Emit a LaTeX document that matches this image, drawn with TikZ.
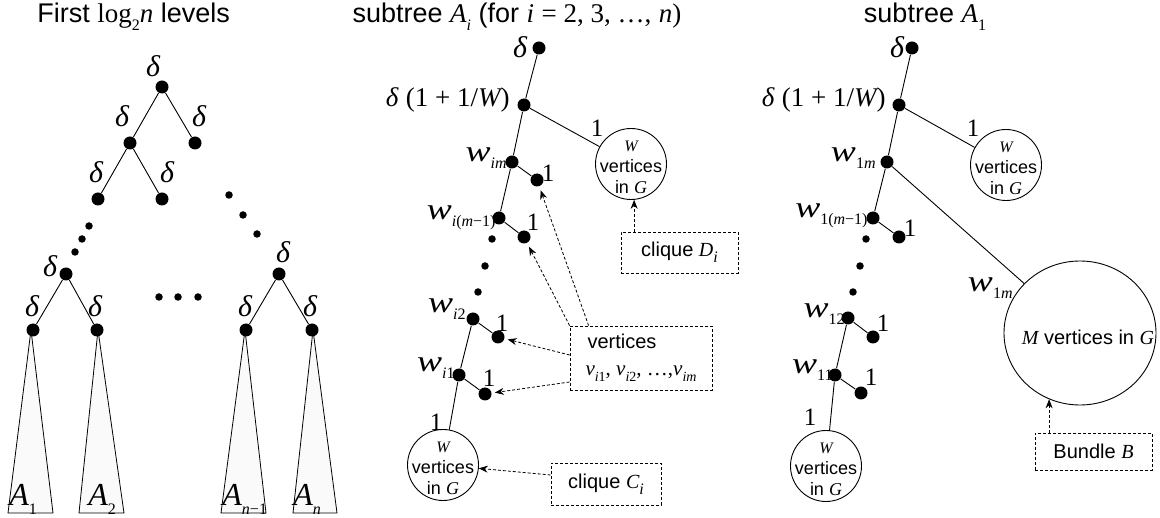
\documentclass[tikz,border=0pt]{standalone}
\usepackage{fontspec}
\usepackage{graphicx}
\setmainfont{Liberation Sans}
\newfontfamily\tms{Liberation Serif}
\usetikzlibrary{arrows.meta,shapes.geometric}
\newcommand{\tmi}[1]{{\tms\itshape #1}}
\newcommand{\tmr}[1]{{\tms\upshape #1}}
\newcommand{\sbs}[1]{\raisebox{-0.55ex}{\fontsize{16}{16}\selectfont\tms #1}}
\newcommand{\ssbs}[1]{\raisebox{-0.55ex}{\fontsize{14}{14}\selectfont\tms #1}}
\newcommand{\wlab}[1]{{\fontsize{30}{30}\selectfont\tmi{\scalebox{1.25}[1]{w}}}\sbs{#1}}
\begin{document}
\begin{tikzpicture}[x=1pt,y=-1pt,
  bigdot/.style={circle,fill=black,inner sep=0pt,minimum size=13pt},
  smalldot/.style={circle,fill=black,inner sep=0pt,minimum size=7.5pt},
  dl/.style={font=\fontsize{30}{30}\selectfont\tms\itshape, inner sep=0pt},
  one/.style={font=\fontsize{25}{25}\selectfont\tms, inner sep=0pt},
  ttl/.style={font=\fontsize{27}{27}\selectfont, inner sep=0pt},
  wl/.style={font=\fontsize{24}{24}\selectfont, inner sep=0pt, anchor=base east},
  alab/.style={font=\fontsize{32}{32}\selectfont, inner sep=0pt, anchor=base west},
  dexpr/.style={font=\fontsize{27}{27}\selectfont, inner sep=0pt, anchor=east},
  clq/.style={circle, draw, minimum size=71pt, inner sep=0pt},
  clqtext/.style={align=center, inner sep=0pt, font=\fontsize{18}{21}\selectfont},
  dbox/.style={draw, dash pattern=on 3pt off 2pt, inner sep=0pt, font=\fontsize{20}{22}\selectfont, line width=0.8pt},
  darr/.style={dash pattern=on 3pt off 2pt, line width=0.8pt, -{Stealth[length=9pt,width=7pt]}},
  tri/.style={draw, fill=black!2, line width=0.8pt},
  every path/.style={line width=0.9pt}]
\useasboundingbox (0,0) rectangle (1160,518);

% ---------------- left: first log2 n levels ----------------
\node[ttl, anchor=west] (t1) at (37,17) {First \tmr{log}\sbs{2}\tmi{n} levels};

\coordinate (a1l) at (8,513);   \coordinate (a1r) at (53,513);
\coordinate (a2l) at (79,513);  \coordinate (a2r) at (124,513);
\coordinate (a3l) at (221,513); \coordinate (a3r) at (266,513);
\coordinate (a4l) at (293,513); \coordinate (a4r) at (337,513);
\coordinate (ap1) at (31,330); \coordinate (ap2) at (98,330);
\coordinate (ap3) at (245,330); \coordinate (ap4) at (313,330);
\draw[tri] (ap1) -- (a1l) -- (a1r) -- cycle;
\draw[tri] (ap2) -- (a2l) -- (a2r) -- cycle;
\draw[tri] (ap3) -- (a3l) -- (a3r) -- cycle;
\draw[tri] (ap4) -- (a4l) -- (a4r) -- cycle;

\node[bigdot] (L0) at (162,87) {};
\node[bigdot] (L1) at (130,143) {};
\node[bigdot] (L2) at (195,143) {};
\node[bigdot] (L3) at (98,199) {};
\node[bigdot] (L4) at (162,199) {};
\node[bigdot] (L5) at (66,274) {};
\node[bigdot] (L6) at (279,274) {};
\node[bigdot] (L7) at (33,330) {};
\node[bigdot] (L8) at (97,330) {};
\node[bigdot] (L9) at (246,330) {};
\node[bigdot] (L10) at (312,330) {};
\draw (L0) -- (L1); \draw (L0) -- (L2);
\draw (L1) -- (L3); \draw (L1) -- (L4);
\draw (L5) -- (L7); \draw (L5) -- (L8);
\draw (L6) -- (L9); \draw (L6) -- (L10);

\node[smalldot] (s1) at (89,226) {};
\node[smalldot] (s2) at (82,239) {};
\node[smalldot] (s3) at (75,252) {};
\node[smalldot] (s4) at (229,195) {};
\node[smalldot] (s5) at (243,215) {};
\node[smalldot] (s6) at (257,234) {};
\node[smalldot] (s7) at (159,297) {};
\node[smalldot] (s8) at (178,297) {};
\node[smalldot] (s9) at (198,297) {};

\node[dl] (d0) at (153,66) {δ};
\node[dl] (d1) at (122,116) {δ};
\node[dl] (d2) at (199,116) {δ};
\node[dl] (d3) at (96,172) {δ};
\node[dl] (d4) at (167,172) {δ};
\node[dl] (d5) at (50,266) {δ};
\node[dl] (d6) at (283,252) {δ};
\node[dl] (d7) at (32,306) {δ};
\node[dl] (d8) at (95,306) {δ};
\node[dl] (d9) at (245,306) {δ};
\node[dl] (d10) at (310,306) {δ};

\node[alab] (A1) at (9,505) {\tmi{A}\sbs{1}};
\node[alab] (A2) at (88,505) {\tmi{A}\sbs{2}};
\node[alab] (A3) at (222,505) {\tmi{A}\sbs{\itshape n\upshape −1}};
\node[alab] (A4) at (293,505) {\tmi{A}\sbs{\itshape n}};

% ---------------- middle: subtree A_i ----------------
\node[ttl] (t2) at (517,17) {subtree \tmi{A}\sbs{\itshape i} (for \tmi{i} \tmr{= 2, 3, …,} \tmi{n}\tmr{)}};

\node[bigdot] (m0) at (539,48) {};
\node[bigdot] (m1) at (524,105) {};
\node[bigdot] (mwm) at (512,162) {};
\node[bigdot] (mvm) at (537,180) {};
\node[bigdot] (mwm1) at (499,218) {};
\node[bigdot] (mvm1) at (524,237) {};
\node[smalldot] (ms1) at (492,239) {};
\node[smalldot] (ms2) at (485,266) {};
\node[smalldot] (ms3) at (478,292) {};
\node[bigdot] (mw2) at (473,319) {};
\node[bigdot] (mv2) at (498,337) {};
\node[bigdot] (mw1) at (459,375) {};
\node[bigdot] (mv1) at (485,394) {};
\node[clq] (cD) at (631,164) {};
\node[clqtext] (cDt) at (631,167) {{\fontsize{16}{16}\selectfont\tmi{W}}\\vertices\\in \tmi{G}};
\node[clq] (cC) at (443,465) {};
\node[clqtext] (cCt) at (443,468) {{\fontsize{16}{16}\selectfont\tmi{W}}\\vertices\\in \tmi{G}};

\draw (m0) -- (m1); \draw (m1) -- (mwm); \draw (mwm) -- (mwm1);
\draw (m1) -- (cD);
\draw (mwm) -- (mvm); \draw (mwm1) -- (mvm1);
\draw (mw2) -- (mv2); \draw (mw1) -- (mv1);
\draw (mw2) -- (mw1); \draw (mw1) -- (cC);

\node[dl] (md0) at (520,47) {δ};
\node[dexpr] (md1) at (510,100) {\tmi{δ} \tmr{(1 + 1/}\tmi{W}\tmr{)}};
\node[wl] (lwm) at (507,162) {\wlab{\itshape im}};
\node[wl] (lwm1) at (496,220) {\wlab{\itshape i\upshape(\itshape m\upshape −1)}};
\node[wl] (lw2) at (466,313) {\wlab{\itshape i\upshape 2}};
\node[wl] (lw1) at (455,372) {\wlab{\itshape i\upshape 1}};
\node[one] (o1) at (597,128) {1};
\node[one] (o2) at (548,173) {1};
\node[one] (o3) at (533,222) {1};
\node[one] (o4) at (502,323) {1};
\node[one] (o5) at (489,378) {1};
\node[one] (o6) at (436,422) {1};

\node[dbox, minimum width=142pt, minimum height=64pt, align=left, inner xsep=0pt] (vbox) at (641,358)
  {\hspace*{2pt}vertices\\[5pt]{\fontsize{21}{21}\selectfont\tmi{v}\ssbs{\itshape i\upshape 1}\tmr{, }\tmi{v}\ssbs{\itshape i\upshape 2}\tmr{, …,}\tmi{v}\ssbs{\itshape im}}};
\node[dbox, minimum width=110pt, minimum height=42pt] (cbox) at (606,484) {clique \tmi{C}\sbs{\itshape i}};
\node[dbox, minimum width=117pt, minimum height=41pt] (dbox) at (679.5,252.5) {clique \tmi{D}\sbs{\itshape i}};

\draw[darr, shorten >=3pt] ([yshift=3pt]vbox.west) -- (mv2);
\draw[darr, shorten >=3pt] ([yshift=-24pt]vbox.west) -- (mv1);
\draw[darr, shorten >=4pt] (vbox.north west) -- (mvm1);
\draw[darr, shorten >=4pt] ([xshift=19pt]vbox.north west) -- (mvm);
\draw[darr] ([yshift=9pt]cbox.west) -- (cC);
\draw[darr] (dbox.north -| cD.-85) -- (cD.-85);

% ---------------- right: subtree A_1 ----------------
\node[ttl] (t3) at (925,17) {subtree \tmi{A}\sbs{1}};

\node[bigdot] (r0) at (912,48) {};
\node[bigdot] (r1) at (899,105) {};
\node[bigdot] (rwm) at (887,162) {};
\node[bigdot] (rwm1) at (873,218) {};
\node[bigdot] (rvm1) at (899,237) {};
\node[smalldot] (rs1) at (866,239) {};
\node[smalldot] (rs2) at (860,266) {};
\node[smalldot] (rs3) at (853,292) {};
\node[bigdot] (rw2) at (848,318) {};
\node[bigdot] (rv2) at (873,337) {};
\node[bigdot] (rw1) at (835,375) {};
\node[bigdot] (rv1) at (861,393) {};
\node[clq] (cR) at (1006,165) {};
\node[clqtext] (cRt) at (1006,168) {{\fontsize{16}{16}\selectfont\tmi{W}}\\vertices\\in \tmi{G}};
\node[clq] (cR2) at (826,466) {};
\node[clqtext] (cR2t) at (826,469) {{\fontsize{16}{16}\selectfont\tmi{W}}\\vertices\\in \tmi{G}};
\node[ellipse, draw, minimum width=152pt, minimum height=144pt, inner sep=0pt] (cB) at (1080,333) {};
\node[inner sep=0pt, font=\fontsize{20}{22}\selectfont] (cBt) at (1088,337) {\tmi{M} vertices in \tmi{G}};

\draw (r0) -- (r1); \draw (r1) -- (rwm); \draw (rwm) -- (rwm1);
\draw (r1) -- (cR);
\draw (rwm) -- (cB);
\draw (rwm1) -- (rvm1);
\draw (rw2) -- (rv2); \draw (rw1) -- (rv1);
\draw (rw2) -- (rw1); \draw (rw1) -- (cR2);

\node[dl] (rd0) at (897,47) {δ};
\node[dexpr] (rd1) at (886,100) {\tmi{δ} \tmr{(1 + 1/}\tmi{W}\tmr{)}};
\node[wl] (rlwm) at (876,162) {\wlab{\upshape 1\itshape m}};
\node[wl] (rlwm1) at (868,218) {\wlab{\upshape 1(\itshape m\upshape −1)}};
\node[wl] (rlw2) at (845,318) {\wlab{\upshape 12}};
\node[wl] (rlw1) at (833,374) {\wlab{\upshape 11}};
\node[wl] (rlB) at (1013,292) {\wlab{\upshape 1\itshape m}};
\node[one] (ro1) at (973,128) {1};
\node[one] (ro3) at (910,228) {1};
\node[one] (ro4) at (883,323) {1};
\node[one] (ro5) at (871,377) {1};
\node[one] (ro6) at (810,417) {1};

\node[dbox, minimum width=117pt, minimum height=37pt] (bbox) at (1093.5,451.5) {Bundle \tmi{B}};
\draw[darr] (bbox.north -| cB.-115) -- (cB.-115);
\end{tikzpicture}
\end{document}
